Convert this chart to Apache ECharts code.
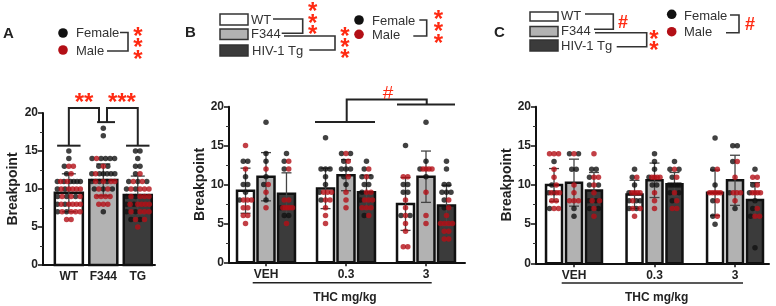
<!DOCTYPE html>
<html lang="en">
<head>
<meta charset="UTF-8">
<title>Breakpoint</title>
<script src="https://cdn.jsdelivr.net/npm/echarts@6/dist/echarts.min.js"></script>
<style>html,body{margin:0;padding:0;background:#fff}</style>
</head>
<body>
<div id="main" style="width:776px;height:306px;"></div>
<script type="text/javascript">
// categories
var genotypes = ['WT', 'F344', 'TG'];
var doses = ['VEH', '0.3', '3'];

// panel A: breakpoint by genotype
var meanA = [9.5, 11.2, 9.2];
var sdA = [2.5, 2.1, 2.5];
var femaleA = [
    [15, 14, 13, 12, 11, 11, 11, 11, 11, 11, 10, 10, 9, 9, 9, 8, 8, 7, 7],
    [18, 17, 14, 14, 14, 14, 14, 13, 13, 12, 12, 12, 12, 12, 12, 11, 11, 11, 10, 10, 10, 7],
    [15, 15, 14, 13, 13, 12, 11, 11, 11, 10, 10, 9, 9, 8, 8, 7, 7, 6, 6]
];
var maleA = [
    [13, 13, 12, 11, 11, 10, 10, 10, 10, 10, 9, 9, 9, 8, 8, 8, 8, 8, 7, 7, 7, 7, 6, 6],
    [14, 13, 12, 11, 11, 11, 11, 10, 10, 9, 9, 9, 9, 8, 8, 8],
    [12, 11, 11, 10, 10, 10, 10, 9, 9, 9, 9, 8, 8, 8, 8, 8, 7, 7, 7, 7, 6, 6, 5]
];

// panel B: [genotype][dose]
var meanB = [[9.2, 9.5, 7.5], [11.0, 11.2, 11.0], [8.8, 9.0, 7.3]];
var sdB = [[2.9, 2.6, 3.4], [3.1, 2.0, 3.3], [2.7, 2.2, 2.6]];
var femaleB = [
    [[13, 13, 11, 10, 10, 9, 8], [16, 12, 12, 12, 11, 10, 9, 8], [15, 10, 10, 9, 9, 6, 6]],
    [[18, 14, 13, 11, 10, 8], [14, 14, 13, 12, 12, 12, 11, 10], [18, 13, 12, 11]],
    [[14, 13, 12, 7, 6, 6], [13, 12, 11, 11, 10, 10, 9, 8, 6], [13, 12, 10, 10, 9, 9, 9, 8, 7]]
];
var maleB = [
    [[15, 12, 8, 8, 8, 7, 7, 6, 6, 5], [9, 9, 9, 8, 8, 7, 6, 5], [11, 11, 8, 7, 6, 5, 4, 2, 2]],
    [[12, 10, 9, 7], [14, 13, 11, 9, 8, 7], [12, 12, 12, 12, 9, 6, 5]],
    [[13, 12, 8, 8, 7, 7, 7, 7, 7, 5], [12, 11, 9, 9, 8, 8, 8, 7, 7, 7, 6], [8, 7, 6, 5, 5, 5, 5, 4, 4, 3, 3]]
];

// panel C: [genotype][dose]
var meanC = [[10.0, 8.8, 9.0], [10.3, 10.6, 10.6], [9.3, 10.1, 8.1]];
var sdC = [[2.1, 1.8, 2.9], [3.0, 2.2, 3.2], [2.3, 1.5, 2.2]];
var femaleC = [
    [[13, 10, 9, 9, 7], [12, 11, 10, 9, 8, 8, 8, 7, 7], [16, 12, 10, 8, 6, 5]],
    [[14, 14, 12, 12, 7, 6], [14, 13, 12, 11, 10, 10], [15, 15, 13, 9, 7]],
    [[12, 12, 11, 10, 10, 8, 8, 7, 7], [13, 12, 12, 11, 10, 10, 10, 10, 10, 9, 9, 8], [12, 10, 9, 8, 7, 6, 2]]
];
var maleC = [
    [[14, 14, 14, 12, 11, 10, 9, 9, 9, 8, 8, 7, 7], [11, 9, 9, 9, 9, 8, 7, 7, 6], [12, 9, 9, 9, 9, 9, 8, 6]],
    [[14, 10, 9, 8, 8, 8], [11, 11, 11, 11, 9, 8, 7], [13, 11, 9, 9, 9, 8]],
    [[14, 11, 11, 10, 9, 8, 8, 7, 6], [12, 11, 9, 8, 7, 7], [11, 11, 10, 9, 9, 9, 9, 7, 6, 6]]
];

// ---- styling / layout ----
var FONT = 'Liberation Sans';
var genoFill = ['#ffffff', '#b2b2b2', '#3b3b3b'];
var sexColor = ['#111111', '#b30f16'];
var RED = '#ff2a12';

var panels = [
    {grid: {left: 43, top: 113, width: 112, height: 152}, xMin: -0.75, xMax: 2.5, barW: 28, cap: 7, nameGap: 23, ticks: false, names: genotypes},
    {grid: {left: 229, top: 106.7, width: 236, height: 155.6}, xMin: -0.4625, xMax: 2.4875, barW: 17, step: 0.256, cap: 5, nameGap: 20, ticks: true, names: doses},
    {grid: {left: 536, top: 106.7, width: 233, height: 156.6}, xMin: -0.472, xMax: 2.422, barW: 16, step: 0.248, cap: 5, nameGap: 20, ticks: true, names: doses}
];

// significance brackets in data units
var annots = [
    {
        lines: [
            [[-0.34, 15.7], [0.34, 15.7]],
            [[1.66, 15.7], [2.34, 15.7]],
            [[0.82, 18.8], [1.34, 18.8]],
            [[0, 15.7], [0, 20.66], [0.875, 20.66], [0.875, 18.8]],
            [[1.107, 18.8], [1.107, 20.66], [2, 20.66], [2, 15.7]]
        ],
        texts: [['**', 0.44, 21.3, 'bold 24px ' + FONT], ['***', 1.54, 21.3, 'bold 24px ' + FONT]]
    },
    {
        lines: [
            [[0.6125, 18.03], [1.3625, 18.03]],
            [[1.6375, 20.27], [2.3625, 20.27]],
            [[1.0088, 18.03], [1.0088, 20.94], [2.009, 20.94], [2.009, 20.27]]
        ],
        texts: [['#', 1.525, 21.7, '19px ' + FONT]]
    },
    null
];

function groupsFor(p) {
    var out = [];
    if (p === 0) {
        for (var g = 0; g < 3; g++) {
            out.push({x: g, mean: meanA[g], sd: sdA[g], g: g, fem: femaleA[g], mal: maleA[g]});
        }
        return out;
    }
    var mean = p === 1 ? meanB : meanC, sd = p === 1 ? sdB : sdC;
    var fem = p === 1 ? femaleB : femaleC, mal = p === 1 ? maleB : maleC;
    for (var d = 0; d < 3; d++) {
        for (var k = 0; k < 3; k++) {
            out.push({x: d + (k - 1) * panels[p].step, mean: mean[k][d], sd: sd[k][d], g: k, fem: fem[k][d], mal: mal[k][d]});
        }
    }
    return out;
}

// spread dots sharing a value into a row across the bar
function spreadDots(gr, pan) {
    var perPx = (pan.xMax - pan.xMin) / pan.grid.width;
    var rows = {};
    gr.fem.forEach(function (v) { (rows[v] = rows[v] || [0, 0])[0]++; });
    gr.mal.forEach(function (v) { (rows[v] = rows[v] || [0, 0])[1]++; });
    var res = [[], []];
    Object.keys(rows).forEach(function (key) {
        var f = rows[key][0], m = rows[key][1], order = [];
        while (f > 0 || m > 0) {
            if (f > 0) { order.push(0); f--; }
            if (m > 0) { order.push(1); m--; }
        }
        var n = order.length;
        var sp = n > 1 ? Math.min(4.5, (pan.barW - 5) / (n - 1)) : 0;
        order.forEach(function (s, i) {
            res[s].push([gr.x + (i - (n - 1) / 2) * sp * perPx, +key]);
        });
    });
    return res;
}

function barRender(pan) {
    return function (params, api) {
        var x = api.value(0), m = api.value(1), s = api.value(2), g = api.value(3);
        var top = api.coord([x, m]), base = api.coord([x, 0]);
        var hi = api.coord([x, m + s])[1], lo = api.coord([x, m - s])[1];
        var cx = top[0], w = pan.barW, c = pan.cap;
        return {
            type: 'group',
            children: [
                {type: 'rect', shape: {x: cx - w / 2, y: top[1], width: w, height: base[1] - top[1]},
                    style: {fill: genoFill[g], stroke: '#111', lineWidth: 2.5}},
                {type: 'polyline', shape: {points: [[cx - c, hi], [cx + c, hi]]}, style: {stroke: '#444', lineWidth: 1.3, fill: null}},
                {type: 'polyline', shape: {points: [[cx, hi], [cx, lo]]}, style: {stroke: '#444', lineWidth: 1.3, fill: null}},
                {type: 'polyline', shape: {points: [[cx - c, lo], [cx + c, lo]]}, style: {stroke: '#444', lineWidth: 1.3, fill: null}}
            ]
        };
    };
}

function annotRender(spec) {
    return function (params, api) {
        var i = api.value(0);
        if (i < spec.lines.length) {
            var pts = spec.lines[i].map(function (pt) { return api.coord(pt); });
            return {type: 'polyline', shape: {points: pts}, style: {stroke: '#222', lineWidth: 2, fill: null}};
        }
        var t = spec.texts[i - spec.lines.length];
        var c = api.coord([t[1], t[2]]);
        return {type: 'text', x: c[0], y: c[1], style: {text: t[0], font: t[3], fill: RED, align: 'center', verticalAlign: 'middle'}};
    };
}

var grids = [], xAxes = [], yAxes = [], series = [];
panels.forEach(function (pan, p) {
    grids.push(pan.grid);
    xAxes.push({
        gridIndex: p, type: 'value', min: pan.xMin, max: pan.xMax,
        splitLine: {show: false},
        axisLine: {onZero: false, lineStyle: {color: '#111', width: 2}},
        axisTick: {show: pan.ticks, customValues: [0, 1, 2], length: 4, lineStyle: {color: '#111', width: 1.5}},
        axisLabel: {customValues: [0, 1, 2], margin: 6, color: '#222', fontWeight: 'bold', fontSize: 12,
            formatter: function (v) { return pan.names[Math.round(v)]; }}
    });
    yAxes.push({
        gridIndex: p, type: 'value', min: 0, max: 20, interval: 5,
        name: 'Breakpoint', nameLocation: 'middle', nameGap: pan.nameGap,
        nameTextStyle: {fontWeight: 'bold', fontSize: 14, color: '#222'},
        splitLine: {show: false},
        axisLine: {show: true, onZero: false, lineStyle: {color: '#111', width: 2}},
        axisTick: {show: true, length: 5, lineStyle: {color: '#111', width: 1.5}},
        minorTick: {show: true, splitNumber: 2, length: 3, lineStyle: {color: '#333', width: 1}},
        axisLabel: {margin: 5, color: '#222', fontWeight: 'bold', fontSize: 12}
    });

    var groups = groupsFor(p);
    series.push({
        type: 'custom', xAxisIndex: p, yAxisIndex: p, z: 2,
        renderItem: barRender(pan),
        data: groups.map(function (gr) { return [gr.x, gr.mean, gr.sd, gr.g]; })
    });
    var fem = [], mal = [];
    groups.forEach(function (gr) {
        var d = spreadDots(gr, pan);
        fem = fem.concat(d[0]);
        mal = mal.concat(d[1]);
    });
    [fem, mal].forEach(function (pts, s) {
        series.push({
            type: 'scatter', xAxisIndex: p, yAxisIndex: p, z: 4,
            symbolSize: 5.5, itemStyle: {color: sexColor[s]},
            data: pts
        });
    });
    if (annots[p]) {
        var spec = annots[p], idx = [];
        for (var i = 0; i < spec.lines.length + spec.texts.length; i++) idx.push([i]);
        series.push({type: 'custom', xAxisIndex: p, yAxisIndex: p, z: 5, clip: false, renderItem: annotRender(spec), data: idx});
    }
});

// ---- legends and decorations (pixel layout) ----
function txt(x, y, s, font, color, align) {
    return {type: 'text', x: x, y: y, z: 10, style: {text: s, font: font, fill: color, align: align || 'left', verticalAlign: 'middle'}};
}
function dot(x, y, s) {
    return {type: 'circle', z: 10, shape: {cx: x, cy: y, r: 4.8}, style: {fill: sexColor[s]}};
}
function pline(pts) {
    return {type: 'polyline', z: 10, shape: {points: pts}, style: {stroke: '#333', lineWidth: 1.6, fill: null}};
}
function box(x, y, w, h, g) {
    return {type: 'rect', z: 10, shape: {x: x, y: y, width: w, height: h}, style: {fill: genoFill[g], stroke: '#333', lineWidth: 1.5}};
}
function stars(x, ys) {
    return ys.map(function (y) { return txt(x, y + 5, '*', 'bold 24px ' + FONT, RED, 'center'); });
}
var LF = '13px ' + FONT, LC = '#333', TF = 'bold 15px ' + FONT;

var graphics = [
    txt(3, 34, 'A', TF, '#222'),
    txt(185, 33, 'B', TF, '#222'),
    txt(494, 33, 'C', TF, '#222'),
    // A legend
    dot(63, 33, 0), txt(76, 33, 'Female', LF, LC),
    dot(63, 50, 1), txt(76, 51, 'Male', LF, LC),
    pline([[120, 32.5], [128, 32.5], [128, 51], [107, 51]]),
    // B legend
    box(220, 14, 28, 11, 0), box(220, 29, 28, 10.5, 1), box(220, 45, 28, 11, 2),
    txt(251, 20, 'WT', LF, LC), txt(251, 34.5, 'F344', LF, LC), txt(252, 51, 'HIV-1 Tg', LF, LC),
    pline([[273, 19], [302.7, 19], [302.7, 33.3], [281.7, 33.3]]),
    pline([[284, 36], [335, 36], [335, 50], [309.3, 50]]),
    dot(359, 20, 0), txt(372, 21.5, 'Female', LF, LC),
    dot(359, 34.3, 1), txt(372, 35.5, 'Male', LF, LC),
    pline([[419.3, 20], [426.7, 20], [426.7, 36], [413.3, 36]]),
    // C legend
    box(530, 12, 28, 9, 0), box(530, 26.5, 28, 10, 1), box(530, 40, 28, 11, 2),
    txt(561, 16.5, 'WT', LF, LC), txt(561, 31.5, 'F344', LF, LC), txt(561, 46.5, 'HIV-1 Tg', LF, LC),
    pline([[585, 14], [613.3, 14], [613.3, 29.3], [594, 29.3]]),
    pline([[595, 32.7], [646.7, 32.7], [646.7, 46.7], [616.7, 46.7]]),
    txt(623, 23, '#', 'bold 18px ' + FONT, RED, 'center'),
    dot(671.7, 14.3, 0), txt(684, 16, 'Female', LF, LC),
    dot(671.7, 31.7, 1), txt(684, 32.5, 'Male', LF, LC),
    pline([[730, 15], [739, 15], [739, 32.7], [726, 32.7]]),
    txt(750, 25, '#', 'bold 18px ' + FONT, RED, 'center'),
    // THC dose axis titles
    {type: 'line', z: 10, shape: {x1: 252.7, y1: 282.7, x2: 431.7, y2: 282.7}, style: {stroke: '#222', lineWidth: 1.5}},
    txt(345, 298, 'THC mg/kg', 'bold 12px ' + FONT, '#222', 'center'),
    {type: 'line', z: 10, shape: {x1: 561.7, y1: 283, x2: 743, y2: 283}, style: {stroke: '#222', lineWidth: 1.5}},
    txt(656.7, 298, 'THC mg/kg', 'bold 12px ' + FONT, '#222', 'center')
]
    .concat(stars(138, [32, 43, 55]))
    .concat(stars(312.7, [7, 19, 30]))
    .concat(stars(345, [32, 43, 54]))
    .concat(stars(438.3, [15, 27, 39]))
    .concat(stars(654, [35, 46.7]));

var myChart = echarts.init(document.getElementById('main'));
myChart.setOption({
    animation: false,
    textStyle: {fontFamily: FONT},
    grid: grids,
    xAxis: xAxes,
    yAxis: yAxes,
    series: series,
    graphic: graphics
});
</script>
</body>
</html>
